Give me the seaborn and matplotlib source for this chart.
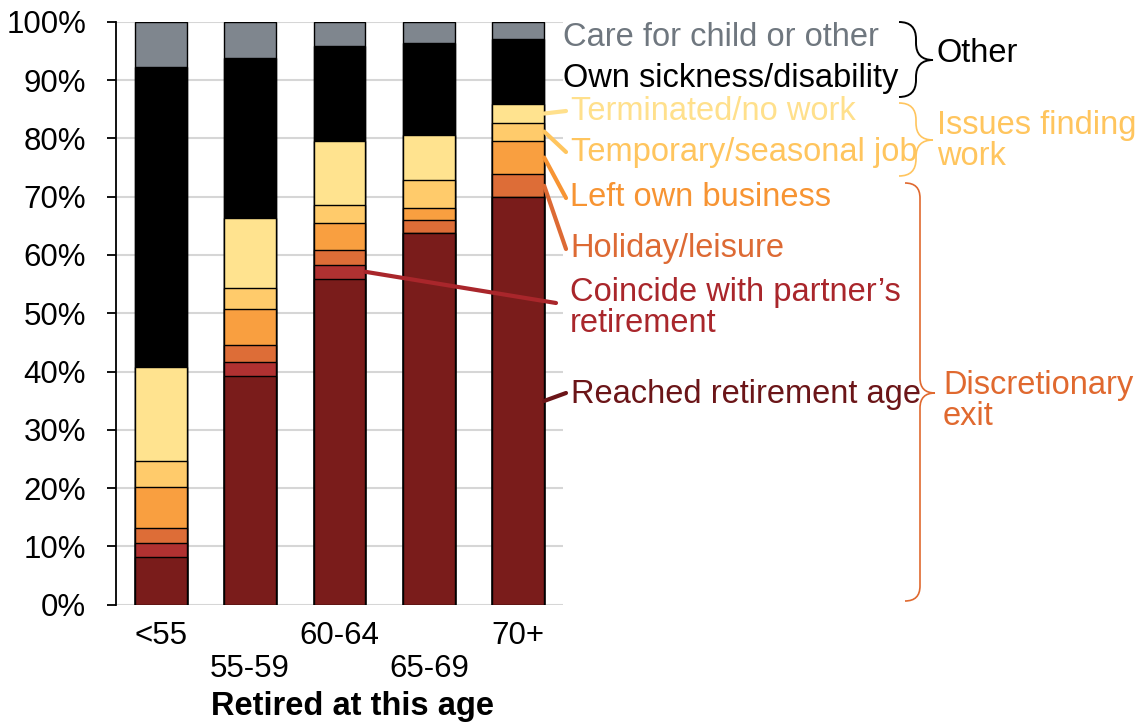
import numpy as np
import pandas as pd
import matplotlib
matplotlib.use("Agg")
import matplotlib.pyplot as plt
from matplotlib.path import Path
from matplotlib.patches import PathPatch
import seaborn as sns

# data (percent of retirees), bottom segment first
age_groups = ["<55", "55-59", "60-64", "65-69", "70+"]
reached = [8.1, 39.3, 55.9, 63.7, 69.9]
coincide = [2.4, 2.3, 2.4, 0.0, 0.0]
holiday = [2.7, 2.9, 2.5, 2.3, 3.9]
left_business = [7.0, 6.2, 4.7, 2.0, 5.8]
temporary = [4.5, 3.6, 3.1, 4.8, 3.1]
terminated = [16.1, 12.1, 11.0, 7.7, 3.1]
sickness = [51.5, 27.4, 16.3, 15.9, 11.2]
care = [7.7, 6.2, 4.1, 3.6, 3.0]

series = [reached, coincide, holiday, left_business, temporary, terminated, sickness, care]
bar_colors = ["#7a1c1b", "#b03131", "#dd6d37", "#f99f40", "#ffcb6b", "#ffe38f", "#000000", "#7f868e"]

W, H = 1141, 722
sns.set_style("white")
plt.rcParams["font.family"] = ["Liberation Sans", "DejaVu Sans"]
for k in ["text.color", "xtick.color", "ytick.color", "axes.labelcolor"]:
    plt.rcParams[k] = "black"
FS = 22.5   # tick labels
LS = 23.5   # annotation labels

fig = plt.figure(figsize=(W / 100, H / 100), dpi=100)
ax = fig.add_axes([116 / W, 1 - 604.7 / H, 447 / W, 583 / H])

cum = np.cumsum(np.array(series), axis=0)
df = pd.DataFrame(cum.T, columns=[f"s{i}" for i in range(len(series))])
df["age"] = age_groups

# stacked bars: draw the running totals from the top layer down
for i in range(len(series) - 1, -1, -1):
    sns.barplot(data=df, x="age", y=f"s{i}", color=bar_colors[i], saturation=1,
                width=0.58, edgecolor="black", linewidth=1.0, ax=ax, zorder=2)

ax.set_xlim(-0.5, 4.5)
ax.set_ylim(0, 100)
ax.set_yticks(range(0, 101, 10))
ax.set_yticklabels([f"{v}%" for v in range(0, 101, 10)], fontsize=FS)
ax.grid(axis="y", color="#d6d6d6", lw=1.5, zorder=0)
ax.set_axisbelow(True)
for s in ["top", "right", "bottom"]:
    ax.spines[s].set_visible(False)
ax.spines["left"].set_color("black")
ax.spines["left"].set_linewidth(1.3)
ax.tick_params(axis="y", length=6.5, width=1.3, pad=15, color="black", left=True)
ax.tick_params(axis="x", length=0, pad=12)
ax.set_xticks(range(len(age_groups)))
ax.set_xticklabels([lab if k % 2 == 0 else "\n" + lab for k, lab in enumerate(age_groups)],
                   fontsize=FS, linespacing=1.1)
ax.set_ylabel("")
ax.set_xlabel("Retired at this age", fontsize=LS, fontweight="bold")
ax.xaxis.set_label_coords(0.528, -0.148)


def px(x, y):
    return x, H - y


def seg_mid(k, j):
    return cum[k, j] - series[k][j] / 2


# category labels with leader lines
labels = [
    ("Care for child or other", "#6f777f", 563, 38, None),
    ("Own sickness/disability", "#000000", 563, 78, None),
    ("Terminated/no work", "#ffe08c", 571, 111, (4, seg_mid(5, 4), 566, 111)),
    ("Temporary/seasonal job", "#ffc55e", 571, 153, (4, seg_mid(4, 4), 566, 152)),
    ("Left own business", "#f79433", 570, 198, (4, seg_mid(3, 4), 566, 198)),
    ("Holiday/leisure", "#dd6a34", 570, 248, (4, seg_mid(2, 4), 566, 249)),
    ("Coincide with partner\u2019s\nretirement", "#a9262b", 570, 308, (2, seg_mid(1, 2), 556, 303)),
    ("Reached retirement age", "#6b1518", 571, 394, (4, seg_mid(0, 4), 566, 393)),
]
for text, col, tx, ty, lead in labels:
    fig.text(tx / W, 1 - ty / H, text, color=col, fontsize=LS, ha="left", va="center",
             linespacing=1.0)
    if lead is not None:
        bi, yv, ex, ey = lead
        ax.annotate("", xy=(bi + 0.29, yv), xycoords="data",
                    xytext=px(ex, ey), textcoords="figure pixels",
                    arrowprops=dict(arrowstyle="-", color=col, lw=3,
                                    shrinkA=0, shrinkB=0), annotation_clip=False)


def brace(x0, xt, ytop, ybot, ytip, color, lw):
    xs = (x0 + xt) / 2
    r = xs - x0
    pts = [(x0, ytop), (xs, ytop), (xs, ytop + r), (xs, ytip - r), (xs, ytip), (xt, ytip),
           (xs, ytip), (xs, ytip + r), (xs, ybot - r), (xs, ybot), (x0, ybot)]
    codes = [Path.MOVETO, Path.CURVE3, Path.CURVE3, Path.LINETO, Path.CURVE3, Path.CURVE3,
             Path.CURVE3, Path.CURVE3, Path.LINETO, Path.CURVE3, Path.CURVE3]
    verts = [(x / W, 1 - y / H) for x, y in pts]
    fig.patches.append(PathPatch(Path(verts, codes), transform=fig.transFigure,
                                 fill=False, edgecolor=color, lw=lw))


brace(899, 933, 22, 97, 60, "black", 1.4)
brace(899, 933, 103, 176, 140, "#ffc55e", 1.2)
brace(905, 935, 183, 601, 393, "#e0692f", 1.2)

fig.text(937 / W, 1 - 53 / H, "Other", color="black", fontsize=LS, ha="left", va="center")
fig.text(937 / W, 1 - 141 / H, "Issues finding\nwork", color="#ffc55e", fontsize=LS,
         ha="left", va="center", linespacing=1.0)
fig.text(943 / W, 1 - 401 / H, "Discretionary\nexit", color="#e0692f", fontsize=LS,
         ha="left", va="center", linespacing=1.0)

fig.savefig("out.png", dpi=100)
